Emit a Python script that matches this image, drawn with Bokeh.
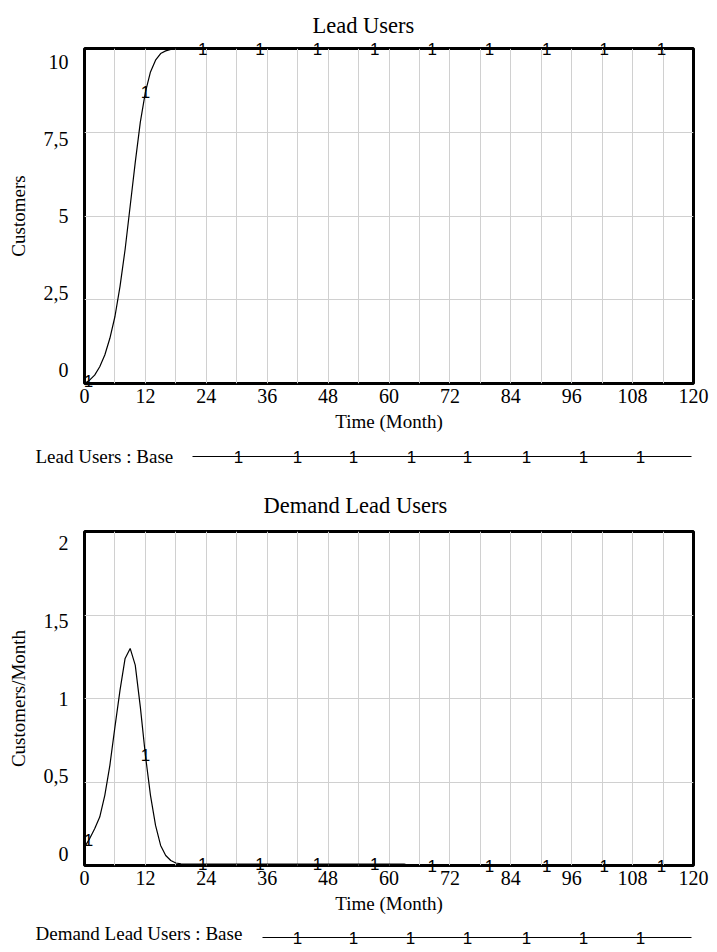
import numpy as np
from bokeh.plotting import figure
from bokeh.layouts import column
from bokeh.models import FixedTicker, Range1d, LinearAxis, Grid
from bokeh.core.properties import value
from bokeh.embed import file_html
from bokeh.resources import INLINE

# ---------------- data ----------------
time = [0, 1, 2, 3, 4, 5, 6, 7, 8, 9, 10, 11, 12, 13, 14, 15, 16, 17, 18, 19, 20,
        24, 30, 36, 42, 48, 54, 60, 63, 64, 72, 84, 96, 108, 120]
lead_users = [0.0, 0.1, 0.25, 0.5, 0.85, 1.35, 2.0, 2.9, 4.0, 5.3, 6.6, 7.8, 8.7, 9.3,
              9.65, 9.85, 9.93, 9.97, 9.99, 10.0, 10.0,
              10.0, 10.0, 10.0, 10.0, 10.0, 10.0, 10.0, 10.0, 10.0, 10.0, 10.0, 10.0, 10.0, 10.0]
demand_lead_users = [0.11, 0.16, 0.22, 0.29, 0.42, 0.60, 0.83, 1.05, 1.24, 1.30, 1.20, 0.95,
                     0.66, 0.42, 0.24, 0.12, 0.06, 0.03, 0.015, 0.010, 0.009,
                     0.009, 0.009, 0.009, 0.008, 0.008, 0.008, 0.008, 0.008, 0.0, 0.0, 0.0,
                     0.0, 0.0, 0.0]
marker_times = [0.8, 12.0, 23.3, 34.6, 45.9, 57.2, 68.5, 79.8, 91.1, 102.4, 113.7]
x_ticks = [0, 12, 24, 36, 48, 60, 72, 84, 96, 108, 120]
x_grid = [0, 6, 12, 18, 24, 30, 36, 42, 48, 54, 60, 66, 72, 78, 84, 90, 96, 102, 108, 114, 120]
lead_yticks = [0, 2.5, 5, 7.5, 10]
lead_ylabels = ["0", "2,5", "5", "7,5", "10"]
demand_yticks = [0, 0.5, 1, 1.5, 2]
demand_ylabels = ["0", "0,5", "1", "1,5", "2"]

SERIF = "Liberation Serif"
SANS = "Liberation Sans"


def make_chart(title, ylabel, y, yticks, ylabels, border_top, frame_h, border_bottom,
               title_standoff, title_offset, label_squeeze, page_y0, legend):
    ymin, ymax = yticks[0], yticks[-1]
    pad = (ymax - ymin) * (1.0 / label_squeeze - 1.0) / 2.0
    p = figure(frame_width=609, frame_height=frame_h,
               min_border_left=84, min_border_right=24,
               min_border_top=border_top, min_border_bottom=border_bottom,
               x_range=Range1d(0, 120), y_range=Range1d(ymin, ymax),
               y_axis_type=None,
               output_backend="svg", toolbar_location=None, title=title)
    # page-pixel helper ranges (for the legend strip drawn beneath the frame)
    p.extra_x_ranges = {"px": Range1d(84, 693)}
    p.extra_y_ranges = {"px": Range1d(page_y0 + frame_h, page_y0),
                        "lbl": Range1d(ymin - pad, ymax + pad)}
    p.title.align = "left"
    p.title.offset = title_offset
    p.title.text_font = SERIF
    p.title.text_font_size = "22.5px"
    p.title.text_font_style = "normal"
    p.title.text_color = "black"
    p.title.standoff = title_standoff
    p.outline_line_color = "black"
    p.outline_line_width = 3
    p.outline_line_alpha = 1.0

    yax = LinearAxis(y_range_name="lbl", ticker=FixedTicker(ticks=yticks),
                     major_label_overrides=dict(zip(yticks, ylabels)), axis_label=ylabel)
    p.add_layout(yax, "left")
    p.add_layout(Grid(dimension=1, ticker=FixedTicker(ticks=yticks),
                      grid_line_color="#d0d0d0", grid_line_width=1))

    p.xaxis.ticker = FixedTicker(ticks=x_ticks)
    p.xgrid.ticker = FixedTicker(ticks=x_grid)
    p.xgrid.grid_line_color = "#d0d0d0"
    p.xgrid.grid_line_width = 1
    for ax in p.axis:
        ax.axis_line_color = None
        ax.major_tick_line_color = None
        ax.minor_tick_line_color = None
        ax.major_tick_out = 0
        ax.major_tick_in = 0
        ax.major_label_text_font = SERIF
        ax.major_label_text_font_size = "20px"
        ax.major_label_text_color = "black"
        ax.axis_label_text_font = SERIF
        ax.axis_label_text_font_size = "19px"
        ax.axis_label_text_font_style = "normal"
        ax.axis_label_text_color = "black"
    p.xaxis.axis_label = "Time (Month)"
    p.xaxis.major_label_standoff = 5
    p.xaxis.axis_label_standoff = 5
    yax.major_label_standoff = 16
    yax.axis_label_standoff = 12

    p.line(time, y, color="black", line_width=1.2)
    my = np.interp(marker_times, time, y)
    p.text(x=marker_times, y=list(my), text=["1"] * len(marker_times),
           text_font=value(SANS), text_font_size="17px", text_color="black",
           text_align="center", text_baseline="middle", level="overlay")

    # legend strip (Vensim style): label, long line with "1" markers
    label, text_y, line_x0, line_x1, line_y, marker_xs = legend
    p.text(x=[35], y=[text_y], text=[label], text_font=value(SERIF), text_font_size="19px",
           text_color="black", text_align="left", text_baseline="middle",
           x_range_name="px", y_range_name="px", level="overlay")
    p.line([line_x0, line_x1], [line_y, line_y], color="black", line_width=1.2,
           x_range_name="px", y_range_name="px", level="overlay")
    p.text(x=marker_xs, y=[line_y] * len(marker_xs), text=["1"] * len(marker_xs),
           text_font=value(SANS), text_font_size="17px", text_color="black",
           text_align="center", text_baseline="middle",
           x_range_name="px", y_range_name="px", level="overlay")
    return p


f1 = make_chart("Lead Users", "Customers", lead_users, lead_yticks, lead_ylabels,
                border_top=48, frame_h=335, border_bottom=91, title_standoff=21,
                title_offset=228, label_squeeze=0.922, page_y0=48,
                legend=("Lead Users : Base", 456, 192, 691, 456,
                        [238, 297, 353, 411, 467, 526, 583, 640]))
f2 = make_chart("Demand Lead Users", "Customers/Month", demand_lead_users,
                demand_yticks, demand_ylabels,
                border_top=57, frame_h=334, border_bottom=86, title_standoff=27,
                title_offset=179, label_squeeze=0.931, page_y0=531,
                legend=("Demand Lead Users : Base", 933, 262, 691, 937,
                        [297, 353, 410, 467, 526, 583, 640]))

layout = column(f1, f2, spacing=0)
open("out.html", "w").write(file_html(layout, INLINE))
